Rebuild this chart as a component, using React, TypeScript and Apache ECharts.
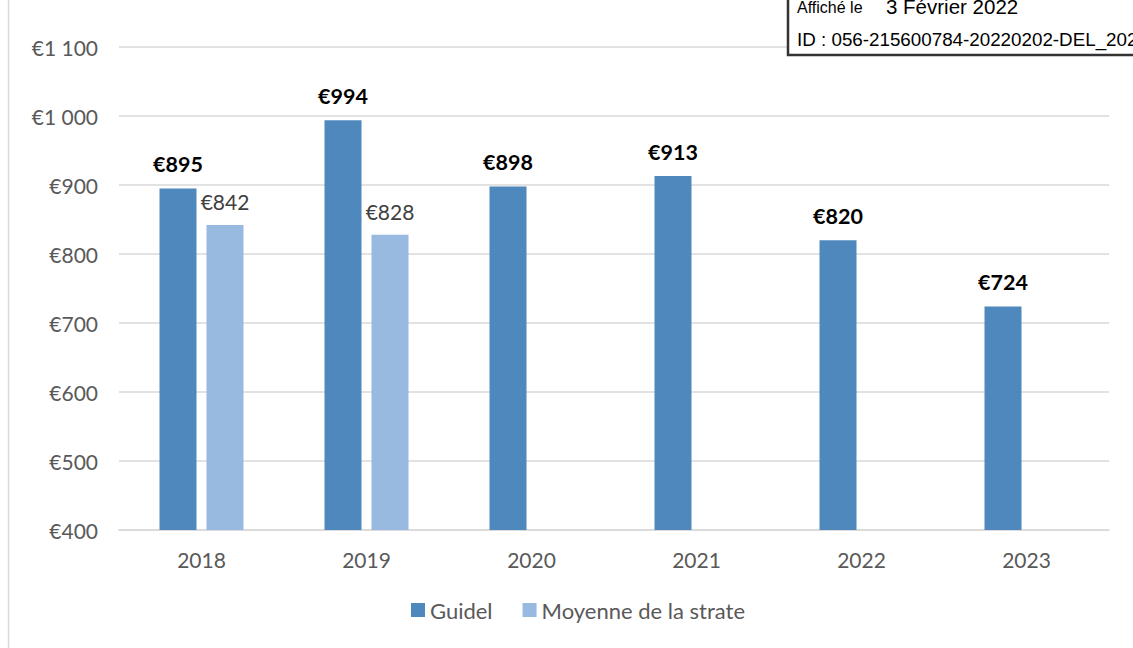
import React, { useEffect, useRef } from "react";
import * as echarts from "echarts";

const categories = ["2018", "2019", "2020", "2021", "2022", "2023"];
const guidel = [895, 994, 898, 913, 820, 724];
const moyenne: (number | null)[] = [842, 828, null, null, null, null];
const seriesNames = ["Guidel", "Moyenne de la strate"];

const fmt = (v: number) => {
  const s = String(Math.round(v));
  return "€" + s.replace(/\B(?=(\d{3})+(?!\d))/g, " ");
};

export default function App() {
  const ref = useRef<HTMLDivElement>(null);
  useEffect(() => {
    const chart = echarts.init(ref.current!, null, { renderer: "svg" });
    const font = "Lato, 'Noto Sans', sans-serif";
    const arial = "'Liberation Sans', Arial, sans-serif";
    chart.setOption({
      animation: false,
      textStyle: { fontFamily: font },
      grid: { left: 119, right: 24, top: 47, bottom: 118 },
      legend: {
        bottom: 22,
        left: 406,
        itemWidth: 14,
        itemHeight: 14,
        itemGap: 30,
        icon: "rect",
        textStyle: { fontSize: 22, color: "#595959", fontFamily: font },
        data: seriesNames,
      },
      xAxis: {
        type: "category",
        data: categories,
        axisLine: { lineStyle: { color: "#d9d9d9", width: 1.5 } },
        axisTick: { show: false },
        axisLabel: { fontSize: 21, color: "#595959", margin: 19 },
      },
      yAxis: {
        type: "value",
        min: 400,
        max: 1100,
        interval: 100,
        axisLine: { show: false },
        axisTick: { show: false },
        splitLine: { lineStyle: { color: "#d9d9d9", width: 1.5 } },
        axisLabel: {
          fontSize: 21,
          color: "#595959",
          margin: 21,
          formatter: (v: number) => fmt(v),
        },
      },
      series: [
        {
          name: seriesNames[0],
          type: "bar",
          data: guidel,
          barWidth: 37,
          barGap: "27%",
          itemStyle: { color: "#4f88bd" },
          label: {
            show: true,
            position: "top",
            distance: 13,
            fontSize: 21.5,
            fontWeight: "bold",
            color: "#000000",
            formatter: (p: any) => fmt(p.value),
          },
        },
        {
          name: seriesNames[1],
          type: "bar",
          data: moyenne,
          barWidth: 37,
          itemStyle: { color: "#98b9e0" },
          label: {
            show: true,
            position: "top",
            distance: 13,
            fontSize: 21,
            color: "#404040",
            formatter: (p: any) => (p.value == null ? "" : fmt(p.value)),
          },
        },
      ],
      graphic: [
        {
          type: "line",
          z: 100,
          shape: { x1: 8.5, y1: 0, x2: 8.5, y2: 648 },
          style: { stroke: "#d9d9d9", lineWidth: 1.5 },
        },
        {
          type: "rect",
          z: 100,
          shape: { x: 788, y: -10, width: 360, height: 65 },
          style: { fill: "#ffffff", stroke: "#333333", lineWidth: 2.5 },
        },
        {
          type: "text",
          z: 101,
          x: 797,
          y: 7,
          style: {
            text: "Affiché le",
            fontSize: 16,
            fontFamily: arial,
            fill: "#000",
            verticalAlign: "middle",
          },
        },
        {
          type: "text",
          z: 101,
          x: 886,
          y: 6,
          style: {
            text: "3 Février 2022",
            fontSize: 20.5,
            fontFamily: arial,
            fill: "#000",
            verticalAlign: "middle",
          },
        },
        {
          type: "text",
          z: 101,
          x: 797,
          y: 39,
          style: {
            text: "ID : 056-215600784-20220202-DEL_2022",
            fontSize: 18.8,
            fontFamily: arial,
            fill: "#000",
            verticalAlign: "middle",
          },
        },
      ],
    });
    return () => chart.dispose();
  }, []);
  return (
    <div
      ref={ref}
      style={{ width: 1133, height: 648, position: "absolute", left: 0, top: 0 }}
    />
  );
}
